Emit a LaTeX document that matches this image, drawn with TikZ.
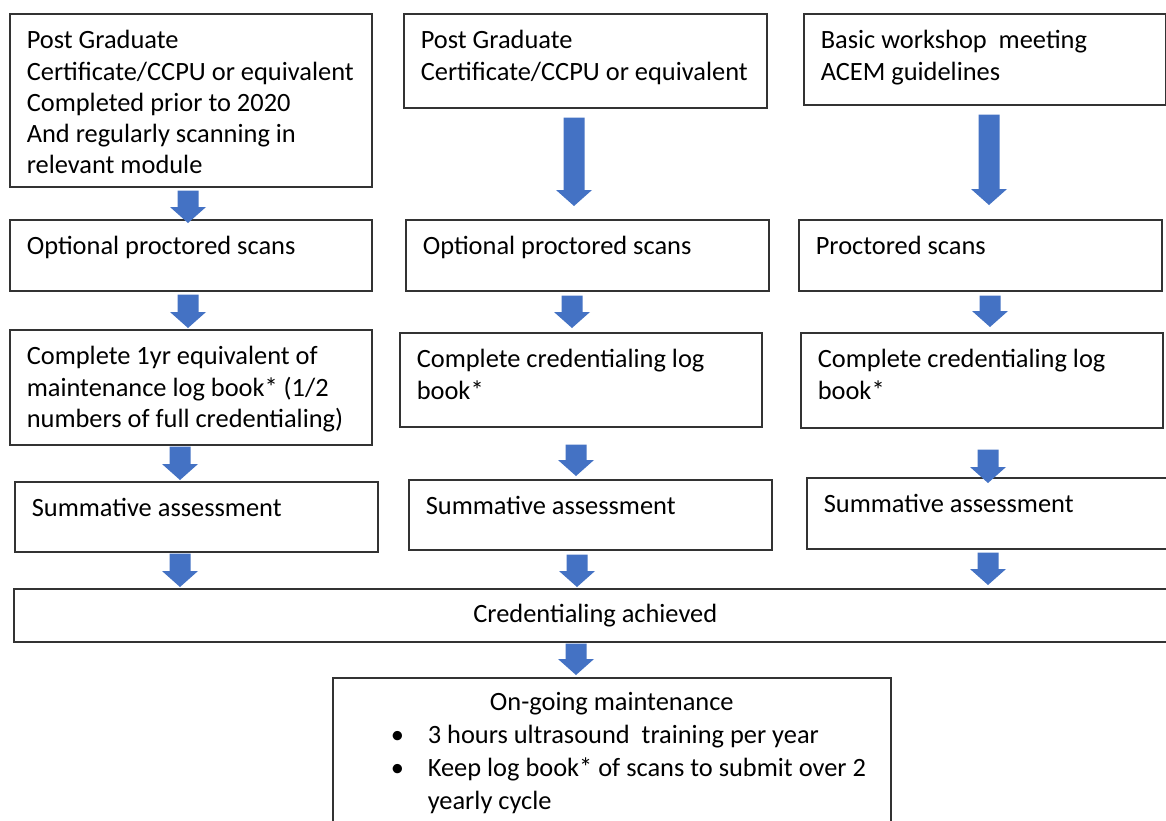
\documentclass[tikz,border=0pt]{standalone}
\usepackage{fontspec}
\setmainfont{Carlito}
\usetikzlibrary{calc}
\definecolor{arrowblue}{HTML}{4472C4}
\newcommand\bxtext[3]{\parbox[c][#2][t]{#1}{\vspace*{13pt}\noindent\begin{tabular}[t]{@{}l@{}}#3\end{tabular}}}
\newcommand\barrow[5]{\fill[arrowblue] let \p1=($(#1,0 |- #2)+(0,#3)$), \p2=($(#1,0 |- #4)+(0,#5)$) in
  (\x1-10.5pt,\y1) -- (\x1+10.5pt,\y1) -- (\x1+10.5pt,\y2+16pt) -- (\x1+18pt,\y2+16pt) -- (\x1,\y2)
  -- (\x1-18pt,\y2+16pt) -- (\x1-10.5pt,\y2+16pt) -- cycle;}
\begin{document}
\begin{tikzpicture}[x=1pt,y=-1pt,
  box/.style={draw=black!80, line width=1.6pt, inner xsep=17pt, inner ysep=0pt, anchor=north west, fill=white},
  every node/.style={font=\fontsize{26.4pt}{31.3pt}\selectfont}]
\useasboundingbox (0,0) rectangle (1166,820);
\fill[white] (0,0) rectangle (1166,820);
% column 1
\node[box] (A1) at (9,13) {\bxtext{328pt}{173pt}{Post Graduate\\Certificate/CCPU or equivalent\\Completed prior to 2020\\And regularly scanning in\\relevant module}};
\node[box] (A2) at (9,219) {\bxtext{328pt}{71pt}{Optional proctored scans}};
\node[box] (A3) at (9,329) {\bxtext{328pt}{115pt}{Complete 1yr equivalent of\\maintenance log book* (1/2\\numbers of full credentialing)}};
\node[box] (A4) at (14,481) {\bxtext{329pt}{70pt}{Summative assessment}};
% column 2
\node[box] (B1) at (403,13) {\bxtext{329pt}{94pt}{Post Graduate\\Certificate/CCPU or equivalent}};
\node[box] (B2) at (405,219) {\bxtext{329pt}{71pt}{Optional proctored scans}};
\node[box] (B3) at (399,332) {\bxtext{328pt}{94pt}{Complete credentialing log\\book*}};
\node[box] (B4) at (408,479) {\bxtext{329pt}{70pt}{Summative assessment}};
% column 3
\node[box] (C1) at (803,13) {\bxtext{328pt}{91pt}{Basic workshop\ \ meeting\\ACEM guidelines}};
\node[box] (C2) at (798,219) {\bxtext{329pt}{71pt}{Proctored scans}};
\node[box] (C3) at (800,332) {\bxtext{328pt}{95pt}{Complete credentialing log\\book*}};
\node[box] (C4) at (806,477) {\bxtext{336pt}{71pt}{Summative assessment}};
% common
\node[box, inner xsep=0pt, minimum width=1163pt, minimum height=53pt] (D) at (13,588) {Credentialing achieved};
\node[box, inner xsep=0pt] (E) at (332,677) {\parbox[c][145pt][t]{558pt}{\fontsize{26.4pt}{33pt}\selectfont\vspace*{10pt}%
\noindent\makebox[558pt]{\strut On-going maintenance}\par
\noindent\hspace*{58pt}\makebox[37pt][l]{\textbullet}3 hours ultrasound\ \ training per year\par
\noindent\hspace*{58pt}\makebox[37pt][l]{\textbullet}Keep log book* of scans to submit over 2\par
\noindent\hspace*{95pt}yearly cycle}};
% arrows
\barrow{188}{A1.south}{3}{A2.north}{4}
\barrow{188}{A2.south}{3}{A3.north}{-1}
\barrow{180}{A3.south}{1}{A4.north}{-1}
\barrow{180}{A4.south}{1}{D.north}{-1}
\barrow{574}{B1.south}{9}{B2.north}{-13}
\barrow{572}{B2.south}{4}{B3.north}{-4}
\barrow{576}{B3.south}{17}{B4.north}{-3}
\barrow{577}{B4.south}{4}{D.north}{-1}
\barrow{989}{C1.south}{9}{C2.north}{-14}
\barrow{990}{C2.south}{4}{C3.north}{-5}
\barrow{988}{C3.south}{21}{C4.north}{6}
\barrow{988}{C4.south}{3}{D.north}{-3}
\barrow{576}{D.south}{1}{E.north}{-2}
\end{tikzpicture}
\end{document}
